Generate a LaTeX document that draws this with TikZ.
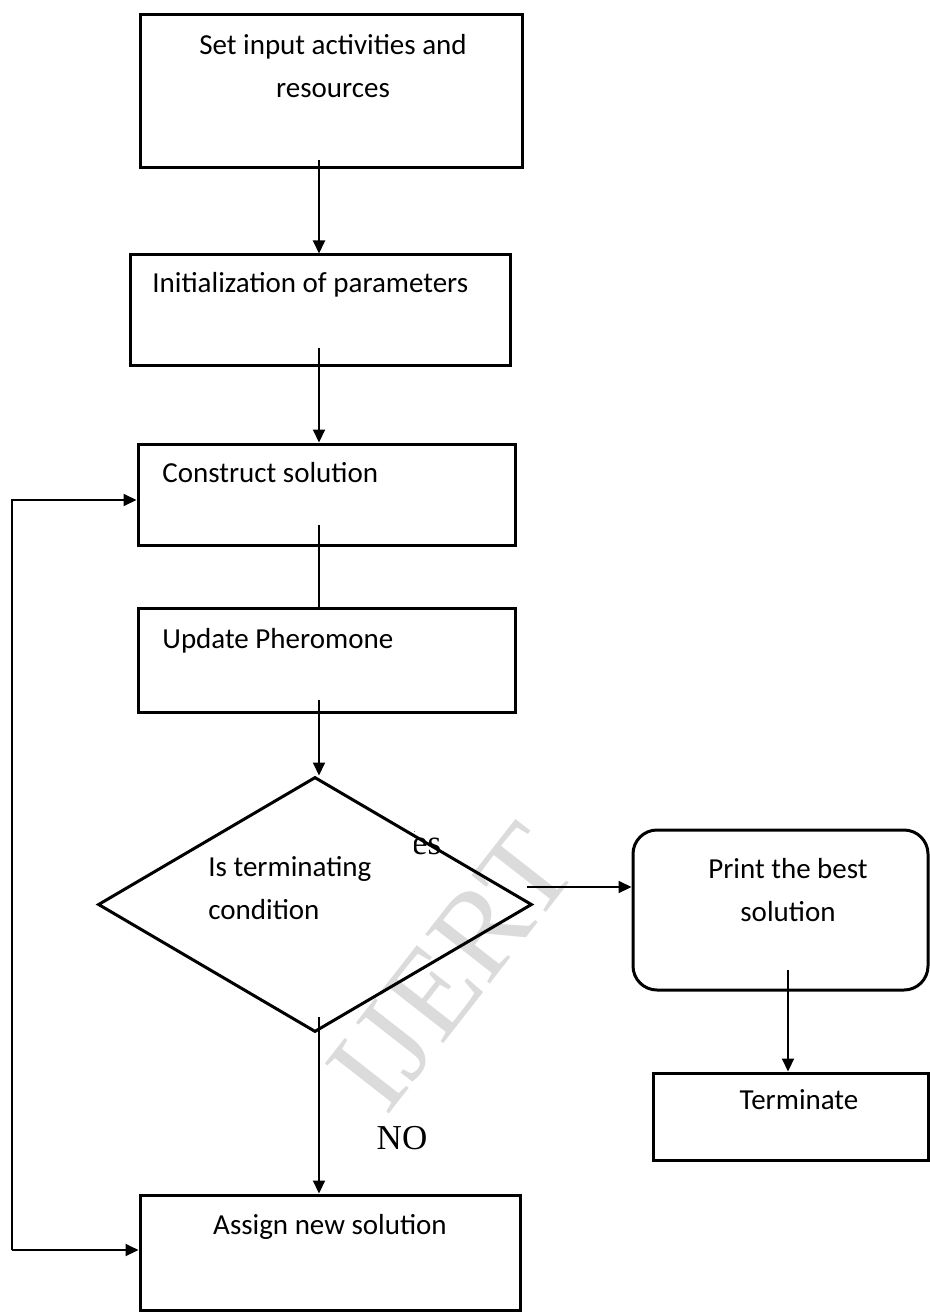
\documentclass[tikz,border=0pt]{standalone}
\usepackage{fontspec}
\setmainfont{Carlito}
\newfontfamily\seriffont{Liberation Serif}
\usetikzlibrary{arrows.meta,shapes.geometric,fit,calc}
\begin{document}
\begin{tikzpicture}[x=0.5pt,y=-0.5pt,
  box/.style={draw,line width=1.5pt,inner sep=0pt},
  txt/.style={font=\fontsize{14.5}{21.5}\selectfont,inner sep=0pt},
  lbl/.style={font=\seriffont\fontsize{17.5}{20}\selectfont,inner sep=0pt},
  conn/.style={line width=1pt},
  arr/.style={conn,-{Triangle[length=6.5pt,width=6pt]}},
]
\useasboundingbox (0,0) rectangle (930,1316);
% boxes
\node[box,fit={(140,15) (522,168)}] (b1) {};
\node[box,fit={(130,255) (510,365)}] (b2) {};
\node[box,fit={(138,444) (515,545)}] (b3) {};
\node[box,fit={(138,608) (515,712)}] (b4) {};
\node[box,fit={(140,1195) (520,1310)}] (b5) {};
\node[box,rounded corners=12pt,fit={(633,830) (928,990)}] (pr) {};
\node[box,fit={(653,1073) (928,1160)}] (te) {};
\node[draw,fill=white,line width=1.5pt,diamond,inner sep=0pt,minimum width=217pt,minimum height=127.5pt] (d) at (315,904.5) {};
% yes label, its first letter hidden as in the reference
\begin{scope}
\clip (414,800) rectangle (470,880);
\node[lbl,anchor=west] (yes) at (390,843) {Yes};
\end{scope}
% texts
\node[txt,align=center] (t1) at (333,66.5) {Set input activities and\\resources};
\node[txt,anchor=west] (t2) at (152,285) {Initialization of parameters};
\node[txt,anchor=west] (t3) at (162,473) {Construct solution};
\node[txt,anchor=west] (t4) at (162,641) {Update Pheromone};
\node[txt,align=left,anchor=west] (t5) at (208,888) {Is terminating\\condition};
\node[txt,align=center] (t6) at (788,890) {Print the best\\solution};
\node[txt] (t7) at (799,1100) {Terminate};
\node[txt] (t8) at (330,1227) {Assign new solution};
\node[lbl] (no) at (402,1138) {NO};
% connector start points
\coordinate (c1) at (319,160);
\coordinate (c2) at (319,348);
\coordinate (c3) at (319,525);
\coordinate (c4) at (319,700);
\coordinate (c5) at (319,1017);
\coordinate (c6) at (527,887);
\coordinate (c7) at (788,970);
\coordinate (fb1) at (12,500);
\coordinate (fb2) at (12,1250);
\draw[arr] (c1) -- (c1 |- b2.north);
\draw[arr] (c2) -- (c2 |- b3.north);
\draw[conn] (c3) -- (c3 |- b4.north);
\draw[arr] (c4) -- (c4 |- d.north);
\draw[arr] (c5) -- (c5 |- b5.north);
\draw[arr] (c6) -- (c6 -| pr.west);
\draw[arr] (c7) -- (c7 |- te.north);
\draw[arr] (fb2) -- (fb1) -- (fb1 -| b3.west);
\draw[arr] (fb2) -- (fb2 -| b5.west);
% watermark
\node[font=\seriffont\fontsize{62}{62}\selectfont,rotate=52,text opacity=0.14] (wm) at (452,968) {IJERT};
\end{tikzpicture}
\end{document}
